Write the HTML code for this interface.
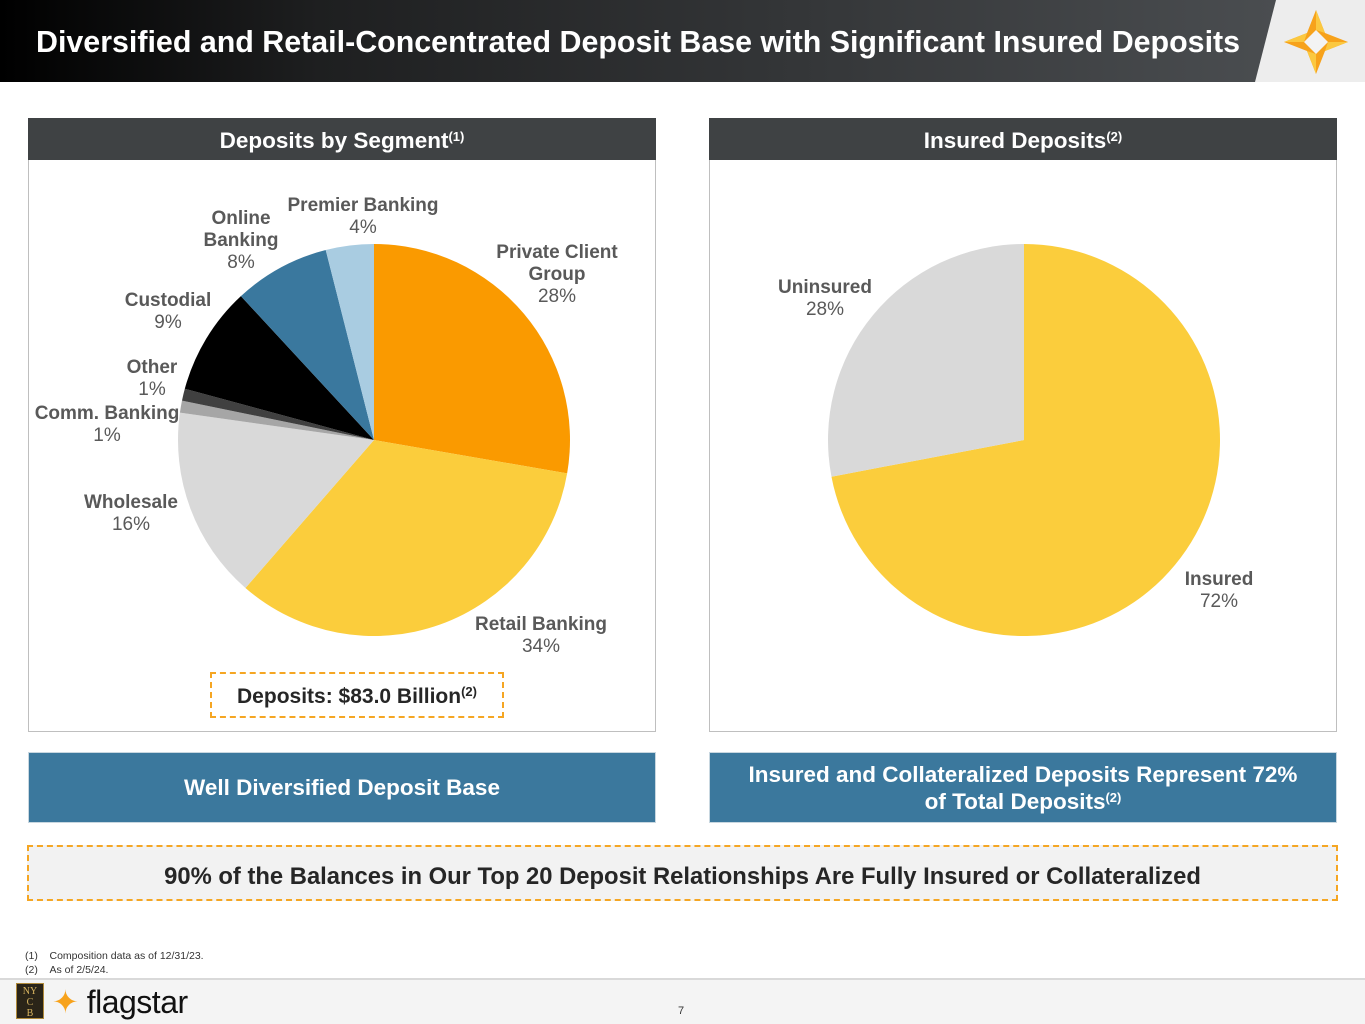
<!DOCTYPE html>
<html><head><meta charset="utf-8"><style>
body{margin:0;width:1365px;height:1022px;position:relative;background:#fff;font-family:"Liberation Sans",Arial,sans-serif;overflow:hidden}
.abs{position:absolute}
.hdr{left:28px;width:628px;height:42px;top:118px;background:#3f4244;color:#fff;font-weight:bold;font-size:22.5px;text-align:center;line-height:45px}
.panel{top:118px;height:614px;border:1px solid #bfbfbf;box-sizing:border-box}
.blue{top:752px;height:71px;background:#3b789d;color:#fff;font-weight:bold;font-size:22.5px;text-align:center;display:flex;align-items:center;justify-content:center;border:1px solid #c8d7e0;box-sizing:border-box;line-height:27px}
sup{font-size:13px;vertical-align:7px;line-height:0}
.lbl{font-size:19px;fill:#595959;font-family:"Liberation Sans",Arial,sans-serif}
.b{font-weight:bold}
</style></head><body>
<div class="abs" style="left:0;top:0;width:1365px;height:82px;background:#ededed"></div>
<svg class="abs" style="left:0;top:0" width="1365" height="82">
<defs><linearGradient id="g" x1="0" x2="1"><stop offset="0" stop-color="#000"/><stop offset="0.25" stop-color="#1e1f20"/><stop offset="1" stop-color="#4a4d50"/></linearGradient></defs>
<polygon points="0,0 1276,0 1255,82 0,82" fill="url(#g)"/>
<g transform="translate(1316,42)">
<polygon points="0,-32 9,-9 32,0 9,9 0,32 -9,9 -32,0 -9,-9" fill="#f7a21b"/>
<polygon points="0,-32 9,-9 0,-12" fill="#fbc840"/><polygon points="32,0 9,9 12,0" fill="#fbc840"/>
<polygon points="0,32 -9,9 0,12" fill="#fbc840"/><polygon points="-32,0 -9,-9 -12,0" fill="#fbc840"/>
<polygon points="0,-12 12,0 0,12 -12,0" fill="#f3f3f3"/></g>
</svg>
<div class="abs" style="left:36px;top:25px;color:#fff;font-weight:bold;font-size:30.4px;white-space:nowrap">Diversified and Retail-Concentrated Deposit Base with Significant Insured Deposits</div>

<div class="abs panel" style="left:28px;width:628px"></div>
<div class="abs panel" style="left:709px;width:628px"></div>
<div class="abs hdr">Deposits by Segment<sup>(1)</sup></div>
<div class="abs hdr" style="left:709px">Insured Deposits<sup>(2)</sup></div>

<svg class="abs" id="pies" style="left:0;top:0" width="1365" height="760"></svg>

<div class="abs" style="left:210px;top:672px;width:294px;height:46px;border:2px dashed #f5a623;box-sizing:border-box;text-align:center;line-height:46px;font-weight:bold;font-size:21px;color:#262626;white-space:nowrap">Deposits: $83.0 Billion<sup>(2)</sup></div>

<div class="abs blue" style="left:28px;width:628px"><div>Well Diversified Deposit Base</div></div>
<div class="abs blue" style="left:709px;width:628px"><div>Insured and Collateralized Deposits Represent 72%<br>of Total Deposits<sup>(2)</sup></div></div>

<div class="abs" style="left:27px;top:845px;width:1311px;height:56px;border:2px dashed #f5a623;box-sizing:border-box;background:#f2f2f2;text-align:center;line-height:60px;font-weight:bold;font-size:23.8px;color:#262626;white-space:nowrap">90% of the Balances in Our Top 20 Deposit Relationships Are Fully Insured or Collateralized</div>

<div class="abs" style="left:25px;top:949px;font-size:10.5px;color:#333;line-height:14px">(1)&nbsp;&nbsp;&nbsp;&nbsp;Composition data as of 12/31/23.<br>(2)&nbsp;&nbsp;&nbsp;&nbsp;As of 2/5/24.</div>
<div class="abs" style="left:0;top:978px;width:1365px;height:44px;background:#f4f4f4;border-top:2px solid #d9d9d9"></div>
<div class="abs" style="left:16px;top:983px;width:28px;height:36px;background:#2a2418;border:1px solid #b08a3a;color:#d9b560;font-family:'Liberation Serif',serif;font-size:10px;text-align:center;line-height:11px;box-sizing:border-box;padding-top:2px">NY<br>C<br>B</div>
<div class="abs" style="left:52px;top:983px;font-size:32px;color:#111;letter-spacing:-0.5px"><span style="color:#f7a21b">✦</span> flagstar</div>
<div class="abs" style="left:678px;top:1005px;font-size:11px;color:#333">7</div>

<script>
const segNames=["Private Client Group","Retail Banking","Wholesale","Comm. Banking","Other","Custodial","Online Banking","Premier Banking"];
const segValues=[28,34,16,1,1,9,8,4];
const segColors=["#fa9a00","#fbcd3c","#d9d9d9","#a6a6a6","#404040","#000000","#3a789e","#a9cce1"];
const insNames=["Insured","Uninsured"];
const insValues=[72,28];
const insColors=["#fbcd3c","#d9d9d9"];
const svg=document.getElementById('pies');
const NS="http://www.w3.org/2000/svg";
function pie(cx,cy,r,vals,cols,names,prefix){
  const tot=vals.reduce((a,b)=>a+b,0);let a0=0;
  vals.forEach((v,i)=>{
    const a1=a0+v/tot*2*Math.PI;
    const x0=cx+r*Math.sin(a0),y0=cy-r*Math.cos(a0),x1=cx+r*Math.sin(a1),y1=cy-r*Math.cos(a1);
    const p=document.createElementNS(NS,'path');
    p.setAttribute('d',`M${cx},${cy}L${x0},${y0}A${r},${r} 0 ${a1-a0>Math.PI?1:0} 1 ${x1},${y1}Z`);
    p.setAttribute('fill',cols[i]);
    
    
    svg.appendChild(p);a0=a1;
  });
}
pie(374,440,196,segValues,segColors,segNames,'segment');
pie(1024,440,196,insValues,insColors,insNames,'insured');
function label(lines,x,y,nm){
  const t=document.createElementNS(NS,'text');
  t.setAttribute('class','lbl');t.setAttribute('text-anchor','middle');
  
  
  lines.forEach((l,i)=>{const s=document.createElementNS(NS,'tspan');s.setAttribute('x',x);s.setAttribute('y',y+i*22);
    if(i<lines.length-1)s.setAttribute('class','b');s.textContent=l;t.appendChild(s);});
  svg.appendChild(t);
}
const pct=v=>v+'%';
label(["Private Client","Group",pct(segValues[0])],557,258,'label-private-client');
label(["Retail Banking",pct(segValues[1])],541,630,'label-retail-banking');
label(["Wholesale",pct(segValues[2])],131,508,'label-wholesale');
label(["Comm. Banking",pct(segValues[3])],107,419,'label-comm-banking');
label(["Other",pct(segValues[4])],152,373,'label-other');
label(["Custodial",pct(segValues[5])],168,306,'label-custodial');
label(["Online","Banking",pct(segValues[6])],241,224,'label-online-banking');
label(["Premier Banking",pct(segValues[7])],363,211,'label-premier-banking');
label(["Uninsured",pct(insValues[1])],825,293,'label-uninsured');
label(["Insured",pct(insValues[0])],1219,585,'label-insured');
</script>
</body></html>
